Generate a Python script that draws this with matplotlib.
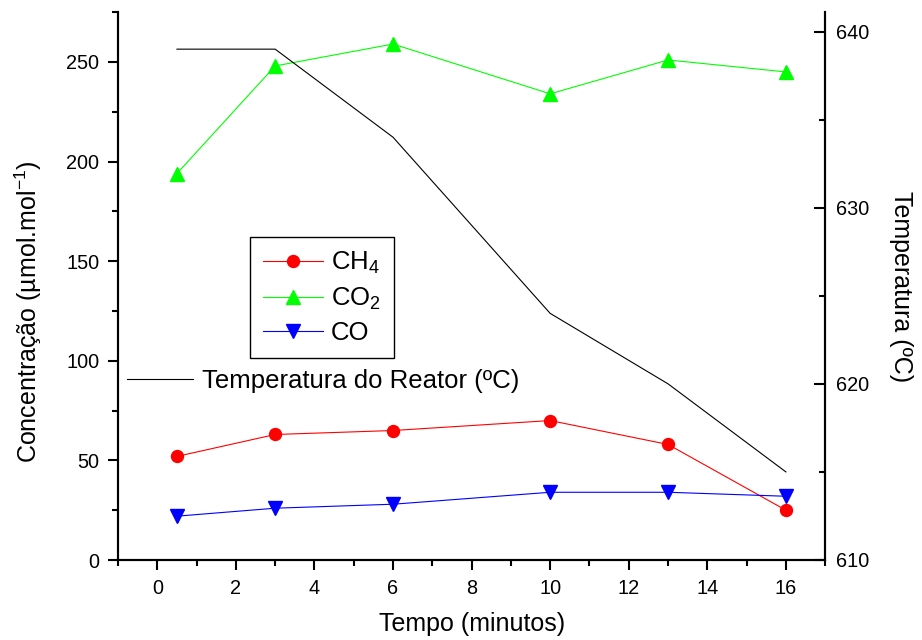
import numpy as np
import matplotlib
matplotlib.use('Agg')
from matplotlib import pyplot as plt
from matplotlib.ticker import MultipleLocator

plt.rcParams['font.family'] = ['Liberation Sans', 'DejaVu Sans']
plt.rcParams['mathtext.fontset'] = 'custom'
plt.rcParams['mathtext.rm'] = 'Liberation Sans'
plt.rcParams['mathtext.it'] = 'Liberation Sans'

# tempo (minutos)
tempo = [0.5, 3, 6, 10, 13, 16]
# concentracoes (umol/mol)
ch4 = [52, 63, 65, 70, 58, 25]
co2 = [194, 248, 259, 234, 251, 245]
co = [22, 26, 28, 34, 34, 32]
# temperatura do reator (C)
temp = [639, 639, 634, 624, 620, 615]

fig = plt.figure(figsize=(9.22, 6.4), dpi=100)
ax = fig.add_axes([0.128, 0.125, 0.767, 0.856])

l1, = ax.plot(tempo, ch4, color='red', lw=0.8, marker='o', ms=8.6, label='CH$_4$')
l2, = ax.plot(tempo, co2, color='#00ff00', lw=0.8, marker='^', ms=9.5, label='CO$_2$')
l3, = ax.plot(tempo, co, color='blue', lw=0.8, marker='v', ms=9.5, label='CO')

ax.set_xlim(-1, 17)
ax.set_ylim(0, 275)
ax.xaxis.set_major_locator(MultipleLocator(2))
ax.xaxis.set_minor_locator(MultipleLocator(1))
ax.yaxis.set_major_locator(MultipleLocator(50))
ax.yaxis.set_minor_locator(MultipleLocator(25))
ax.spines['top'].set_visible(False)
ax.set_xlabel('Tempo (minutos)', fontsize=18, labelpad=10)
ax.set_ylabel('Concentração (µmol.mol$^{-1}$)', fontsize=18)
ax.yaxis.set_label_coords(-0.105, 0.453)

ax2 = ax.twinx()
l4, = ax2.plot(tempo, temp, color='black', lw=0.8, label='Temperatura do Reator (ºC)')
ax2.set_ylim(610, 641.1)
ax2.yaxis.set_major_locator(MultipleLocator(10))
ax2.yaxis.set_minor_locator(MultipleLocator(5))
ax2.spines['top'].set_visible(False)
ax2.set_ylabel('Temperatura (ºC)', fontsize=18, rotation=-90, labelpad=31)

for s in ax.spines.values():
    s.set_linewidth(1.5)
for s in ax2.spines.values():
    s.set_linewidth(1.5)
ax.tick_params(which='major', direction='out', length=7.5, width=1.5, labelsize=14.3, pad=6)
ax.tick_params(which='minor', direction='out', length=4.5, width=1.5)
ax2.tick_params(which='major', direction='in', length=8, width=1.5, labelsize=14.3, pad=8)
ax2.tick_params(which='minor', direction='in', length=4.5, width=1.5)

leg1 = ax2.legend(handles=[l1, l2, l3], loc='upper left', bbox_to_anchor=(0.187, 0.589),
                  borderaxespad=0, fontsize=18.5, frameon=True, fancybox=False,
                  edgecolor='black', handlelength=2.35, borderpad=0.5,
                  labelspacing=0.36, handletextpad=0.3)
leg1.get_frame().set_linewidth(1.0)
leg1.get_frame().set_alpha(1)
ax2.add_artist(leg1)
ax2.legend(handles=[l4], loc='center left', bbox_to_anchor=(0.0127, 0.326), borderaxespad=0,
           borderpad=0, fontsize=18.5, frameon=False, handlelength=2.55, handletextpad=0.35)

fig.savefig('out.png', dpi=100)
